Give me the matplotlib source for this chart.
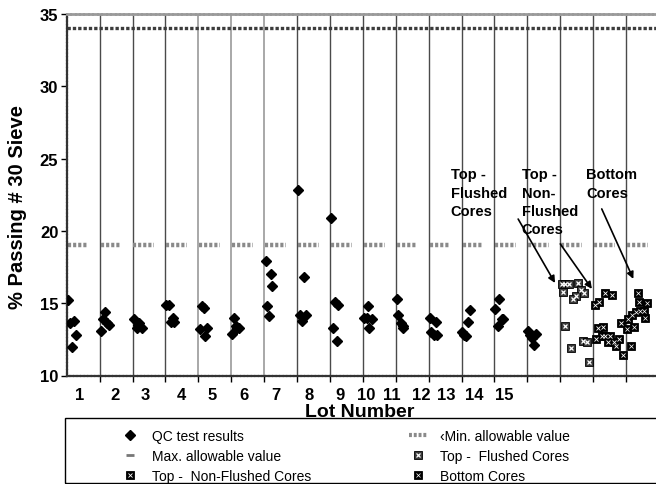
import matplotlib
matplotlib.use("Agg")
import matplotlib.pyplot as plt
from matplotlib.lines import Line2D
from matplotlib.patches import Rectangle

plt.rcParams['font.family'] = ['Liberation Sans', 'DejaVu Sans']

# ---- data ----
lots = list(range(1, 16))
n_slots = 18            # 15 lots + 3 slots for the core samples

# QC test results, one list per lot: position inside the lot slot, value
qc_pos = [
    [0.05, 0.10, 0.22, 0.27, 0.16],
    [0.04, 0.16, 0.09, 0.22, 0.29],
    [0.05, 0.20, 0.15, 0.28, 0.17],
    [0.02, 0.12, 0.23, 0.17, 0.27],
    [0.10, 0.17, 0.05, 0.26, 0.20],
    [0.09, 0.03, 0.15, 0.25, 0.19],
    [0.05, 0.20, 0.25, 0.09, 0.16],
    [0.04, 0.21, 0.09, 0.27, 0.14],
    [0.03, 0.16, 0.26, 0.09, 0.21],
    [0.02, 0.12, 0.15, 0.28, 0.20],
    [0.03, 0.08, 0.15, 0.23, 0.21],
    [0.03, 0.22, 0.07, 0.16, 0.26],
    [0.02, 0.08, 0.14, 0.21, 0.26],
    [0.15, 0.03, 0.22, 0.26, 0.10],
    [0.03, 0.08, 0.26, 0.13, 0.19],
]
qc_val = [
    [15.2, 13.6, 13.8, 12.8, 12.0],
    [13.1, 14.4, 13.9, 13.6, 13.5],
    [13.9, 13.6, 13.3, 13.3, 13.5],
    [14.9, 14.9, 14.0, 13.7, 13.7],
    [14.8, 14.7, 13.2, 13.3, 12.7],
    [14.0, 12.9, 13.4, 13.3, 13.3],
    [17.9, 17.0, 16.2, 14.8, 14.1],
    [22.8, 16.8, 14.2, 14.2, 13.8],
    [20.9, 15.1, 14.9, 13.3, 12.4],
    [14.0, 14.0, 14.8, 13.9, 13.3],
    [15.3, 14.2, 13.6, 13.4, 13.3],
    [14.0, 13.7, 13.0, 12.8, 12.8],
    [13.0, 12.8, 12.7, 13.7, 14.5],
    [15.3, 14.6, 13.9, 13.9, 13.4],
    [13.1, 12.8, 12.9, 12.6, 12.1],
]

flushed_x = [15.05, 15.15, 15.25, 15.08, 15.53, 15.63, 15.73, 15.48, 15.38,
             15.15, 15.32, 15.68, 15.80, 15.87]
flushed_y = [16.3, 16.35, 16.35, 15.8, 16.4, 15.9, 15.7, 15.5, 15.3,
             13.45, 11.9, 12.4, 12.3, 10.9]

nonflushed_x = [16.04, 16.19, 16.36, 16.57, 16.14, 16.29, 16.09, 16.26,
                16.36, 16.52, 16.46, 16.62, 16.70, 16.79, 16.92, 16.86]
nonflushed_y = [14.9, 15.1, 15.7, 15.6, 13.3, 13.35, 12.5, 12.7,
                12.7, 12.75, 12.35, 12.35, 12.05, 12.55, 11.45, 13.65]

bottom_x = [17.04, 17.05, 17.15, 17.17, 17.24, 17.30, 17.35, 17.40,
            17.42, 17.55, 17.58, 17.63]
bottom_y = [13.2, 13.9, 12.05, 14.2, 13.35, 14.4, 15.7, 15.1,
            14.45, 14.45, 13.95, 15.0]

max_allow = 34
min_allow = 19

# where the lot numbers were typed under the axis (slot units)
lot_label_x = [0.40, 1.47, 2.38, 3.47, 4.42, 5.39, 6.36, 7.36, 8.31,
               9.10, 9.89, 10.77, 11.53, 12.38, 13.29]

# ---- figure ----
fig = plt.figure(figsize=(6.56, 4.85), dpi=100)
ax = fig.add_axes([66.7 / 656, 108.5 / 485, 592.3 / 656, 361.5 / 485])
ax.set_xlim(0, n_slots)
ax.set_ylim(10, 35)

# slot dividers
light = {4, 5, 6}
for b in range(1, n_slots):
    if b in light:
        ax.axvline(b, color='#a8a8a8', lw=1.4, zorder=1)
    else:
        ax.axvline(b, color='#4a4a4a', lw=1.0, zorder=1)

# allowable values
ax.axhline(max_allow, color='#3c3c3c', lw=2.4, ls=(0, (1, 0.6)), zorder=2)
for s in range(n_slots):
    ax.hlines(min_allow, s + 0.03, s + 0.66, color='#8a8a8a', lw=3.2,
              linestyles=(0, (0.7, 0.45)), zorder=2)

# QC results
for lot, pos, val in zip(lots, qc_pos, qc_val):
    ax.plot([lot - 1 + p for p in pos], val, ls='none', marker='D', ms=5.5,
            color='black', zorder=4)


def cores(x, y, face, xlw):
    ax.plot(x, y, ls='none', marker='s', ms=5.2, mfc=face, mec='black',
            mew=0.6, zorder=4)
    ax.plot(x, y, ls='none', marker='x', ms=3.2, mec='white', mew=xlw,
            zorder=5)


cores(flushed_x, flushed_y, '#3a3a3a', 0.9)
cores(nonflushed_x, nonflushed_y, 'black', 0.6)
cores(bottom_x, bottom_y, 'black', 0.5)

# annotations
txt = dict(fontsize=10.5, fontweight='bold', va='top', ha='left',
           linespacing=1.4)
ax.text(11.67, 24.4, 'Top -\nFlushed\nCores', **txt)
ax.text(13.83, 24.4, 'Top -\nNon-\nFlushed\nCores', **txt)
ax.text(15.78, 24.4, 'Bottom\nCores', **txt)
arrow = dict(arrowstyle='-|>', color='black', lw=1.2, mutation_scale=10,
             shrinkA=0, shrinkB=0)
ax.annotate('', xy=(14.84, 16.40), xytext=(13.72, 20.82), arrowprops=arrow)
ax.annotate('', xy=(15.96, 15.99), xytext=(15.00, 19.10), arrowprops=arrow)
ax.annotate('', xy=(17.22, 16.68), xytext=(16.26, 21.52), arrowprops=arrow)

# axes styling
ax.spines['right'].set_visible(False)
ax.spines['top'].set_color('#9a9a9a')
ax.spines['top'].set_linestyle((0, (1, 0.6)))
ax.spines['top'].set_linewidth(2)
for side in ['left', 'bottom']:
    ax.spines[side].set_color('#333333')
    ax.spines[side].set_linestyle((0, (1, 0.6)))
    ax.spines[side].set_linewidth(1.6)

ax.set_yticks(range(10, 36, 5))
ax.tick_params(axis='y', direction='out', length=4, width=1, pad=2,
               labelsize=12)
for t in ax.get_yticklabels():
    t.set_fontweight('bold')
ax.set_xticks(range(1, n_slots))
ax.set_xticklabels([])
ax.tick_params(axis='x', direction='out', length=4, width=1)

for lx, lot in zip(lot_label_x, lots):
    ax.text(lx, 8.7, str(lot), ha='center', va='center', fontsize=12,
            fontweight='bold', transform=ax.transData, clip_on=False)

fig.text(360 / 656, 1 - 413 / 485, 'Lot Number', ha='center', va='center',
         fontsize=14, fontweight='bold')
fig.text(18 / 656, 1 - 207 / 485, '% Passing # 30 Sieve', ha='center',
         va='center', rotation=90, fontsize=14.5, fontweight='bold')


# legend
def core_handle(face, xlw):
    return (Line2D([], [], ls='none', marker='s', ms=5.2, mfc=face,
                   mec='black', mew=0.6),
            Line2D([], [], ls='none', marker='x', ms=3.2, mec='white',
                   mew=xlw))


handles = [
    Line2D([], [], ls='none', marker='D', ms=5, color='black'),
    Line2D([], [], ls='none', marker='_', ms=6, mew=2, color='#777777'),
    core_handle('black', 0.6),
    Line2D([], [], color='#8a8a8a', lw=3, ls=(0, (0.7, 0.45))),
    core_handle('#3a3a3a', 0.9),
    core_handle('black', 0.5),
]
labels = ['QC test results', 'Max. allowable value',
          'Top -  Non-Flushed Cores', '\u2039Min. allowable value',
          'Top -  Flushed Cores', 'Bottom Cores']
fig.legend(handles, labels, ncol=2, loc='upper left',
           bbox_to_anchor=(121 / 656, 1 - 430 / 485), frameon=False,
           fontsize=10, handlelength=1.3, handletextpad=0.9,
           columnspacing=7.1, labelspacing=0.42, borderpad=0,
           borderaxespad=0)
fig.patches.append(Rectangle((65 / 656, 1 / 485), 1, 65 / 485,
                             transform=fig.transFigure, fill=False,
                             edgecolor='black', lw=1))

fig.savefig('out.png', dpi=100)
